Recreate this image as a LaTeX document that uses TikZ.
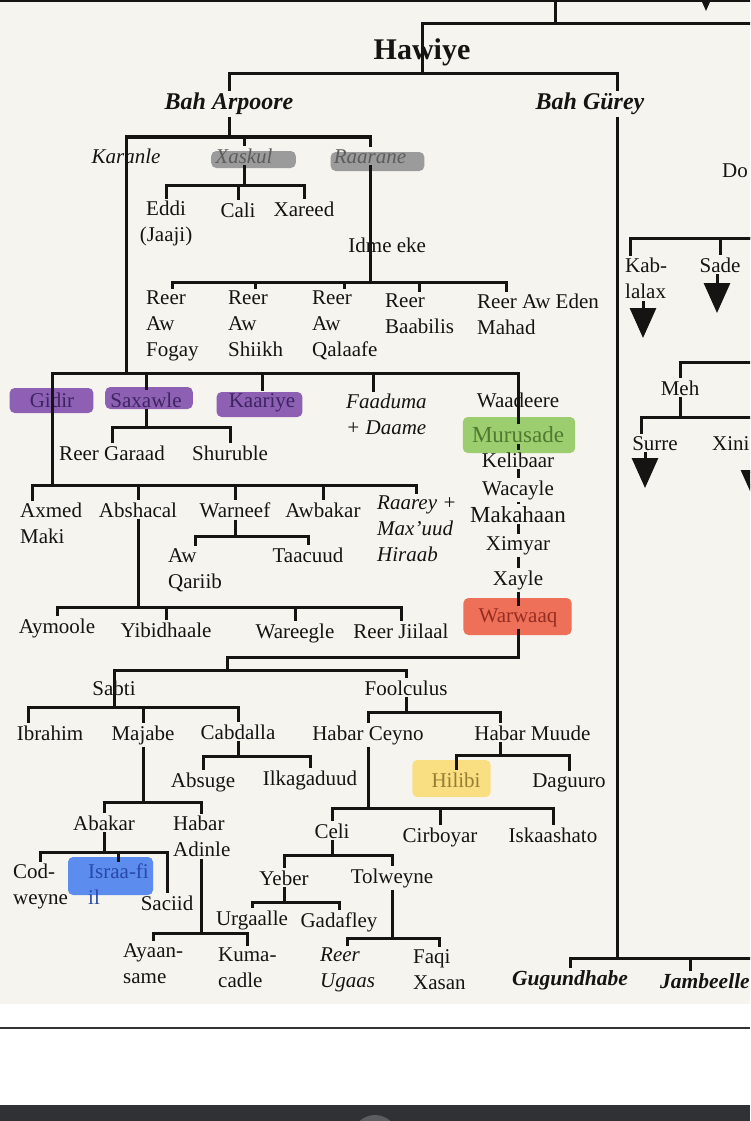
\documentclass[tikz,border=0pt]{standalone}
\usepackage{fontspec}
\setmainfont{Liberation Serif}
\usetikzlibrary{arrows.meta,backgrounds}
\definecolor{paper}{RGB}{246,244,238}
\definecolor{ink}{RGB}{22,20,18}
\definecolor{uibar}{RGB}{48,49,52}
\definecolor{uibtn}{RGB}{92,93,96}
\definecolor{hlgray}{RGB}{155,155,155}
\definecolor{hlpurple}{RGB}{141,96,180}
\definecolor{hlgreen}{RGB}{156,206,112}
\definecolor{hlred}{RGB}{238,112,88}
\definecolor{hlyellow}{RGB}{250,222,130}
\definecolor{hlblue}{RGB}{92,140,238}
\definecolor{grayink}{RGB}{92,92,92}
\definecolor{purpleink}{RGB}{62,36,98}
\definecolor{greenink}{RGB}{78,122,48}
\definecolor{redink}{RGB}{150,45,35}
\definecolor{yellowink}{RGB}{150,125,50}
\definecolor{blueink}{RGB}{40,72,170}

% one family: line from the parent down to a bar, then a drop to each child
\newcommand\famfork[3]{%
  \draw[tree] (#1) -- (#1 |- 0,#2) coordinate (fk);
  \foreach \kid in {#3} \draw[tree] (fk) -| (\kid);}
% marker stroke behind a name
\newcommand\hilite[6]{%
  \fill[#2, rounded corners=5pt] ([xshift=-#3pt, yshift=-#6pt]#1.base west)
    rectangle ([xshift=#4pt, yshift=#5pt]#1.base east);}

\begin{document}
\begin{tikzpicture}[x=1pt, y=-1pt,
    tree/.style={line width=3pt, draw=ink},
    drop/.style={tree, -{Triangle[length=30pt, width=26pt]}},
    lbl/.style={font=\fontsize{21}{26}\selectfont, text=ink, inner xsep=0pt,
      inner ysep=2pt, anchor=base},
    lblit/.style={lbl, font=\fontsize{21}{26}\selectfont\itshape},
    blk/.style={lbl, align=left, anchor=north west},
    blkit/.style={lblit, align=left, anchor=north west},
    big/.style={lbl, font=\fontsize{23}{26}\selectfont},
    head/.style={lbl, font=\fontsize{24}{28}\selectfont\bfseries\itshape},
    foot/.style={lbl, font=\fontsize{21.5}{26}\selectfont\bfseries\itshape},
    title/.style={lbl, font=\fontsize{30}{34}\selectfont\bfseries},
  ]

  \useasboundingbox (0,0) rectangle (750,1121);
  \clip (0,0) rectangle (750,1121);

  % Page and screen frame
  \begin{pgfonlayer}{background}
    \fill[white] (0,0) rectangle (750,1121);
    \fill[paper] (0,0) rectangle (750,1004);
    \fill[ink] (0,0) rectangle (750,2.5);
    \fill[uibar] (0,1105) rectangle (750,1121);
    \fill[uibtn] (375,1138) circle (23);
  \end{pgfonlayer}
  \draw[black!80, line width=1.5pt] (0,1028) -- (750,1028);

  % Top
  \node[title] (hawiye) at (422,60) {Hawiye};
  \node[head] (arpoore) at (229,110) {Bah Arpoore};
  \node[head] (gurey) at (590,110) {Bah Gürey};
  \coordinate (gurey-in) at ([xshift=27pt]gurey.north);
  \coordinate (gurey-out) at ([xshift=27pt]gurey.south);
  \coordinate (top-e) at (760,24);
  \coordinate (top-in) at (555,-10);
  \coordinate (top-tip) at (706,11);

  % Bah Arpoore
  \node[lblit] (karanle) at (126,163) {Karanle};
  \node[lblit, text=grayink] (xaskul) at (244,163) {Xaskul};
  \node[lblit, text=grayink] (raarane) at (370,163) {Raarane};
  \node[lbl, align=center, anchor=north] (eddi) at (166,199) {Eddi\\(Jaaji)};
  \node[lbl] (cali) at (238,217) {Cali};
  \node[lbl] (xareed) at (304,216) {Xareed};
  \node[lbl] (idme) at (370,252) {Idme\rlap{\ eke}};
  \node[blk] (fogay) at (146,289) {Reer\\Aw\\Fogay};
  \node[blk] (shiikh) at (228,289) {Reer\\Aw\\Shiikh};
  \node[blk] (qalaafe) at (312,289) {Reer\\Aw\\Qalaafe};
  \node[blk] (baabilis) at (385,292) {Reer\\Baabilis};
  \node[blk] (awEden) at (477,292) {Reer\rlap{\ Aw Eden}\\Mahad};

  % Karanle
  \node[lbl, text=purpleink] (gidir) at (52,407) {Gidir};
  \node[lbl, text=purpleink] (saxawle) at (146,407) {Saxawle};
  \node[lbl, text=purpleink] (kaariye) at (262,407) {Kaariye};
  \node[blkit] (faaduma) at (346,392) {Faaduma\\+ Daame};
  \coordinate (faaduma-in) at ([xshift=-13pt]faaduma.north);
  \node[lbl] (waadeere) at (518,407) {Waadeere};
  \node[lbl] (reergaraad) at (112,460) {Reer Garaad};
  \node[lbl] (shuruble) at (230,460) {Shuruble};
  \node[blk] (axmed) at (20,501) {Axmed\\Maki};
  \coordinate (axmed-in) at ([xshift=-19pt]axmed.north);
  \node[lbl] (abshacal) at (138,517) {Abshacal};
  \node[lbl] (warneef) at (235,517) {Warneef};
  \node[lbl] (awbakar) at (323,517) {Awbakar};
  \node[blkit] (raarey) at (377,494) {Raarey +\\Max’uud\\Hiraab};
  \node[blk] (awqariib) at (168,546) {Aw\\Qariib};
  \node[lbl] (taacuud) at (308,562) {Taacuud};
  \node[lbl] (aymoole) at (57,633) {Aymoole};
  \node[lbl] (yibidhaale) at (166,637) {Yibidhaale};
  \node[lbl] (wareegle) at (295,638) {Wareegle};
  \node[lbl] (jiilaal) at (401,638) {Reer Jiilaal};

  % Waadeere line
  \node[big, text=greenink] (murusade) at (518,442) {Murusade};
  \node[lbl] (kelibaar) at (518,467) {Kelibaar};
  \node[lbl] (wacayle) at (518,495) {Wacayle};
  \node[big] (makahaan) at (518,522) {Makahaan};
  \node[lbl] (ximyar) at (518,550) {Ximyar};
  \node[lbl] (xayle) at (518,585) {Xayle};
  \node[lbl, text=redink] (warwaaq) at (518,622) {Warwaaq};
  \coordinate (split) at (227,670);

  % Sabti and Foolculus
  \node[lbl] (sabti) at (114,695) {Sabti};
  \node[lbl] (foolculus) at (406,695) {Foolculus};
  \node[lbl] (ibrahim) at (50,740) {Ibrahim};
  \coordinate (ibrahim-in) at ([xshift=-22pt]ibrahim.north);
  \node[lbl] (majabe) at (143,740) {Majabe};
  \node[lbl] (cabdalla) at (238,739) {Cabdalla};
  \node[lbl] (absuge) at (203,787) {Absuge};
  \node[lbl] (ilkagaduud) at (310,785) {Ilkagaduud};
  \node[lbl] (abakar) at (104,830) {Abakar};
  \node[blk] (adinle) at (173,814) {Habar\\Adinle};
  \node[blk] (codweyne) at (13,862) {Cod-\\weyne};
  \node[blk, text=blueink] (israafil) at (88,862) {Israa-fi\\il};
  \node[lbl] (saciid) at (167,910) {Saciid};
  \node[blk] (ayaan) at (123,941) {Ayaan-\\same};
  \node[blk] (kuma) at (218,946) {Kuma-\\cadle};
  \node[lbl] (habarceyno) at (368,740) {Habar Ceyno};
  \node[lbl] (habarmuude) at (500,740) {Habar\rlap{\ Muude}};
  \node[lbl] (celi) at (332,838) {Celi};
  \node[lbl] (cirboyar) at (440,842) {Cirboyar};
  \node[lbl] (iskaashato) at (553,842) {Iskaashato};
  \node[lbl, text=yellowink] (hilibi) at (456,787) {Hilibi};
  \node[lbl] (daguuro) at (569,787) {Daguuro};
  \node[lbl] (yeber) at (284,885) {Yeber};
  \node[lbl] (tolweyne) at (392,883) {Tolweyne};
  \node[lbl] (urgaalle) at (252,925) {Urgaalle};
  \node[lbl] (gadafley) at (339,927) {Gadafley};
  \node[blkit] (ugaas) at (320,946) {Reer\\Ugaas};
  \node[blk] (faqi) at (413,947) {Faqi\\Xasan};

  % Bah Gurey
  \node[lbl, anchor=base west] (do) at (722,177) {Do};
  \node[blk] (kablalax) at (625,256) {Kab-\\lalax};
  \coordinate (kab-in) at ([xshift=-16pt]kablalax.north);
  \node[lbl] (sade) at (720,272) {Sade};
  \node[lbl] (meh) at (680,395) {Meh};
  \node[lbl] (surre) at (655,450) {Surre};
  \coordinate (surre-in) at ([xshift=-14pt]surre.north);
  \node[lbl, anchor=base west] (xini) at (712,450) {Xini};
  \node[foot] (gugundhabe) at (570,985) {Gugundhabe};
  \node[foot, anchor=base west] (jambeelle) at (660,988) {Jambeelle};
  \coordinate (jamb-in) at ([xshift=-14pt]jambeelle.north);
  \coordinate (kab-e) at (760,238);
  \coordinate (meh-e) at (760,362);
  \coordinate (meh-edge) at (760,417);
  \coordinate (gug-edge) at (760,958);
  \coordinate (kab-tip) at (643,338);
  \coordinate (sade-tip) at (717,313);
  \coordinate (surre-tip) at (645,488);
  \coordinate (xini-tip) at (754,500);

  % Marker strokes
  \begin{pgfonlayer}{background}
    \hilite{xaskul}{hlgray}{4}{23}{12}{5}
    \hilite{raarane}{hlgray}{3}{18}{11}{8}
    \hilite{gidir}{hlpurple}{20}{19}{19}{6}
    \hilite{saxawle}{hlpurple}{5}{11}{20}{2}
    \hilite{kaariye}{hlpurple}{12}{7}{15}{10}
    \hilite{murusade}{hlgreen}{9}{11}{25}{11}
    \hilite{warwaaq}{hlred}{15}{14}{24}{13}
    \hilite{hilibi}{hlyellow}{19}{10}{27}{10}
    \fill[hlblue, rounded corners=5pt] ([xshift=-20pt, yshift=5pt]israafil.north west)
      rectangle ([xshift=4pt, yshift=-33pt]israafil.north east);
  \end{pgfonlayer}

  % Lines of descent
  \draw[tree] (top-in) -- (top-in |- top-e);
  \draw[tree] (top-e) -| (hawiye.north);
  \draw[drop] (top-tip |- top-in) -- (top-tip);
  \famfork{hawiye.north}{74}{arpoore.north, gurey-in}
  \famfork{arpoore.south}{137}{karanle.north, xaskul.north, raarane.north}
  \famfork{xaskul.south}{185}{eddi.north, cali.north, xareed.north}
  \draw[tree] (raarane.south) -- (idme.north);
  \famfork{idme.north}{282}{fogay.north, shiikh.north, qalaafe.north, baabilis.north, awEden.north}
  \famfork{karanle.north}{373}{gidir.north, saxawle.north, kaariye.north, faaduma-in, waadeere.north}
  \famfork{saxawle.south}{427}{reergaraad.north, shuruble.north}
  \famfork{gidir.north}{485}{axmed-in, abshacal.north, warneef.north, awbakar.north, raarey.north}
  \famfork{warneef.south}{536}{awqariib.north, taacuud.north}
  \famfork{abshacal.south}{607}{aymoole.north, yibidhaale.north, wareegle.north, jiilaal.north}
  \foreach \up/\dn in {waadeere.north/murusade, murusade/kelibaar, kelibaar/wacayle,
      wacayle/makahaan, makahaan/ximyar, ximyar/xayle, xayle/warwaaq}
    \draw[tree] (\up) -- (\dn);
  \draw[tree] (warwaaq) |- (split |- 0,657) -- (split);
  \famfork{split}{670}{sabti.north, foolculus.north}
  \famfork{sabti.north}{707}{ibrahim-in, majabe.north, cabdalla.north}
  \famfork{cabdalla.south}{756}{absuge.north, ilkagaduud.north}
  \famfork{majabe.south}{802}{abakar.north, adinle.north}
  \famfork{abakar.south}{852}{codweyne.north, israafil.north, saciid.north}
  \famfork{adinle.south}{933}{ayaan.north, kuma.north}
  \famfork{foolculus.south}{712}{habarceyno.north, habarmuude.north}
  \famfork{habarceyno.south}{808}{celi.north, cirboyar.north, iskaashato.north}
  \famfork{habarmuude.south}{755}{hilibi.north, daguuro.north}
  \famfork{celi.south}{855}{yeber.north, tolweyne.north}
  \famfork{yeber.south}{902}{urgaalle.north, gadafley.north}
  \famfork{tolweyne.south}{938}{ugaas.north, faqi.north}

  % Bah Gurey side
  \draw[tree] (kab-e) -| (kab-in);
  \draw[tree] (kab-e) -| (sade.north);
  \draw[drop] (kab-tip |- kablalax.south) -- (kab-tip);
  \draw[drop] (sade-tip |- sade.south) -- (sade-tip);
  \draw[tree] (meh-e) -| (meh.north);
  \famfork{meh.south}{417}{surre-in, meh-edge}
  \draw[drop] (surre-tip |- surre.south) -- (surre-tip);
  \draw[drop] (xini-tip |- xini.south) -- (xini-tip);
  \famfork{gurey-out}{958}{gugundhabe.north, jamb-in, gug-edge}

\end{tikzpicture}
\end{document}
